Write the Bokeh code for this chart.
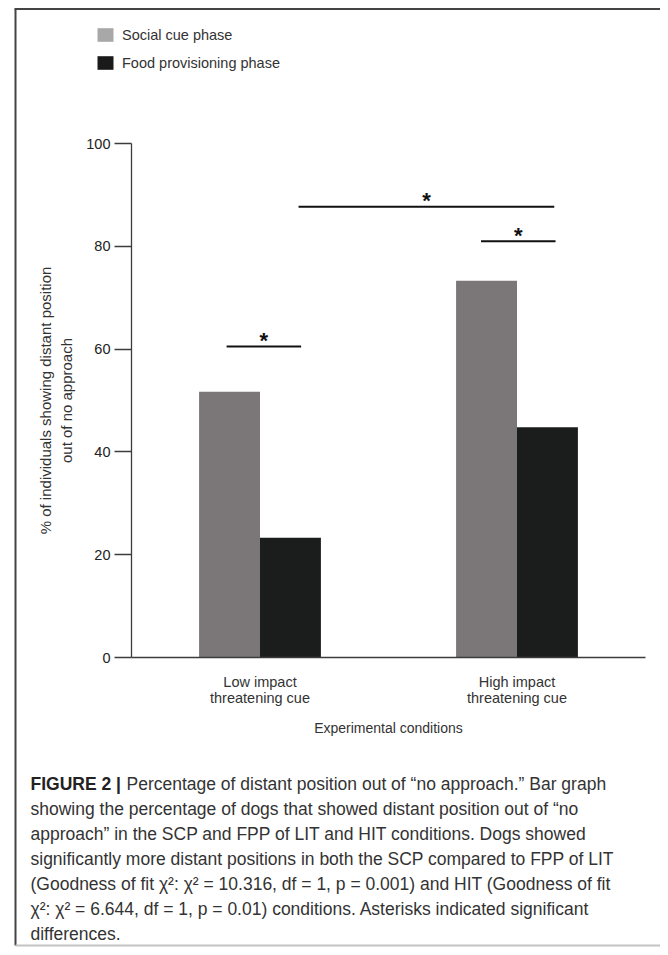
from bokeh.plotting import figure
from bokeh.models import (Range1d, LinearAxis, FixedTicker, Label, Legend,
                          LegendItem)
from bokeh.embed import file_html
from bokeh.resources import INLINE
import numpy as np

# ---------------- data ----------------
categories = ["Low impact\nthreatening cue", "High impact\nthreatening cue"]
phases = ["Social cue phase", "Food provisioning phase"]
social_cue = [51.7, 73.3]
food_provisioning = [23.3, 44.8]
y_ticks = [0, 20, 40, 60, 80, 100]
# significance brackets (start, end, height) in data units
sig_start = [0.37, 1.36, 0.65]
sig_end = [0.66, 1.65, 1.645]
sig_height = [60.5, 81.0, 87.7]
sig_mark = ["*", "*", "*"]
caption_bold = "FIGURE 2 |"
caption_lines = [
    "Percentage of distant position out of \u201cno approach.\u201d Bar graph",
    "showing the percentage of dogs that showed distant position out of \u201cno",
    "approach\u201d in the SCP and FPP of LIT and HIT conditions. Dogs showed",
    "significantly more distant positions in both the SCP compared to FPP of LIT",
    "(Goodness of fit \u03c7\u00b2: \u03c7\u00b2 = 10.316, df = 1, p = 0.001) and HIT (Goodness of fit",
    "\u03c7\u00b2: \u03c7\u00b2 = 6.644, df = 1, p = 0.01) conditions. Asterisks indicated significant",
    "differences.",
]

# ---------------- layout constants (canvas pixels) ----------------
W, H = 660, 947
PX_X = 257.0      # pixels per category unit
PX_Y = 5.14       # pixels per percent
ORIGIN_X = 131    # canvas px of x = 0
ORIGIN_Y = 657    # canvas px (from top) of y = 0
FONT = "Liberation Sans"
TXT = "#333333"
AX = "#3c3c3c"


def dx(px):
    return (px - ORIGIN_X) / PX_X


def dy(py):
    return (ORIGIN_Y - py) / PX_Y


x_range = Range1d(dx(0), dx(W))
y_range = Range1d(dy(H), dy(0))

p = figure(width=W, height=H, x_range=x_range, y_range=y_range,
           output_backend="svg", toolbar_location=None,
           x_axis_type=None, y_axis_type=None,
           min_border=0, min_border_left=0, min_border_right=0,
           min_border_top=0, min_border_bottom=0)
p.outline_line_color = None
p.background_fill_color = "white"
p.border_fill_color = "white"

# ---------------- bars ----------------
centers = np.arange(len(categories)) + 0.5
bar_w = 0.237
p.vbar(x=centers - bar_w / 2, top=social_cue, width=bar_w, bottom=0,
       fill_color="#7b7677", line_color=None)
p.vbar(x=centers + bar_w / 2, top=food_provisioning, width=bar_w, bottom=0,
       fill_color="#1b1c1c", line_color=None)

# ---------------- axes ----------------
yaxis = LinearAxis(fixed_location=0, bounds=(0, 100),
                   ticker=FixedTicker(ticks=y_ticks),
                   axis_label="% of individuals showing distant position\nout of no approach")
yaxis.axis_line_color = AX
yaxis.axis_line_width = 1.3
yaxis.major_tick_line_color = AX
yaxis.major_tick_line_width = 1.3
yaxis.major_tick_out = 17
yaxis.major_tick_in = 0
yaxis.minor_tick_line_color = None
yaxis.major_label_standoff = 4
yaxis.major_label_text_font = FONT
yaxis.major_label_text_font_size = "14.5px"
yaxis.major_label_text_color = "#222222"
yaxis.axis_label_text_font = FONT
yaxis.axis_label_text_font_size = "15px"
yaxis.axis_label_text_font_style = "normal"
yaxis.axis_label_text_color = TXT
yaxis.axis_label_text_line_height = 1.25
yaxis.axis_label_standoff = 8
p.add_layout(yaxis, "left")

xaxis = LinearAxis(fixed_location=0, bounds=(0, len(categories)),
                   ticker=FixedTicker(ticks=list(centers)),
                   major_label_overrides={float(c): lab for c, lab in zip(centers, categories)},
                   axis_label="Experimental conditions")
xaxis.axis_line_color = AX
xaxis.axis_line_width = 1.3
xaxis.major_tick_line_color = None
xaxis.minor_tick_line_color = None
xaxis.major_label_standoff = 10
xaxis.major_label_text_font = FONT
xaxis.major_label_text_font_size = "14.5px"
xaxis.major_label_text_line_height = 1.05
xaxis.major_label_text_color = TXT
xaxis.axis_label_text_font = FONT
xaxis.axis_label_text_font_size = "14px"
xaxis.axis_label_text_font_style = "normal"
xaxis.axis_label_text_color = TXT
xaxis.axis_label_standoff = 11
p.add_layout(xaxis, "below")

# ---------------- significance brackets ----------------
p.segment(x0=sig_start, x1=sig_end, y0=sig_height, y1=sig_height,
          line_color="#111111", line_width=2)
star_gap = 6 / PX_Y
for s, e, h, m in zip(sig_start, sig_end, sig_height, sig_mark):
    p.add_layout(Label(x=(s + e) / 2, y=h + star_gap, text=m, text_align="center",
                       text_baseline="alphabetic", text_font=FONT,
                       text_font_size="22px", text_font_style="bold",
                       text_color="#111111"))

# ---------------- legend ----------------
r_leg1 = p.vbar(x=centers[:1], top=[0], bottom=0, width=0.01,
                fill_color="#a8a8a8", line_color=None)
r_leg2 = p.vbar(x=centers[:1], top=[0], bottom=0, width=0.01,
                fill_color="#1a1a1a", line_color=None)
legend = Legend(items=[LegendItem(label=phases[0], renderers=[r_leg1]),
                       LegendItem(label=phases[1], renderers=[r_leg2])],
                location=(95, H - 71), glyph_width=20,
                glyph_height=17, label_height=17, spacing=11,
                padding=0, margin=0, label_standoff=7,
                label_text_font=FONT, label_text_font_size="14.5px",
                label_text_color=TXT, border_line_color=None,
                background_fill_alpha=0)
p.add_layout(legend)

# ---------------- frame lines ----------------
frame_left, frame_top, frame_bottom = 15, 8.5, 945
p.segment(x0=[dx(frame_left)], x1=[dx(frame_left)], y0=[dy(frame_top)],
          y1=[dy(frame_bottom)], line_color="#444444", line_width=2)
p.segment(x0=[dx(frame_left - 1)], x1=[dx(W)], y0=[dy(frame_top)],
          y1=[dy(frame_top)], line_color="#444444", line_width=2)
p.segment(x0=[dx(frame_left)], x1=[dx(W)], y0=[dy(frame_bottom)],
          y1=[dy(frame_bottom)], line_color="#c4c4c4", line_width=2)

# ---------------- caption ----------------
cap_top = 783      # canvas px from top, first line centre
cap_step = 25
cap_size = "17.5px"
p.add_layout(Label(x=30, y=H - cap_top, x_units="screen", y_units="screen",
                   text=caption_bold, text_font=FONT, text_font_size=cap_size,
                   text_font_style="bold", text_color="#222222",
                   text_baseline="middle", text_align="left"))
for i, line in enumerate(caption_lines):
    x0 = 126 if i == 0 else 30
    p.add_layout(Label(x=x0, y=H - (cap_top + i * cap_step),
                       x_units="screen", y_units="screen", text=line,
                       text_font=FONT, text_font_size=cap_size,
                       text_color=TXT, text_baseline="middle",
                       text_align="left"))

open("out.html", "w").write(file_html(p, INLINE))
